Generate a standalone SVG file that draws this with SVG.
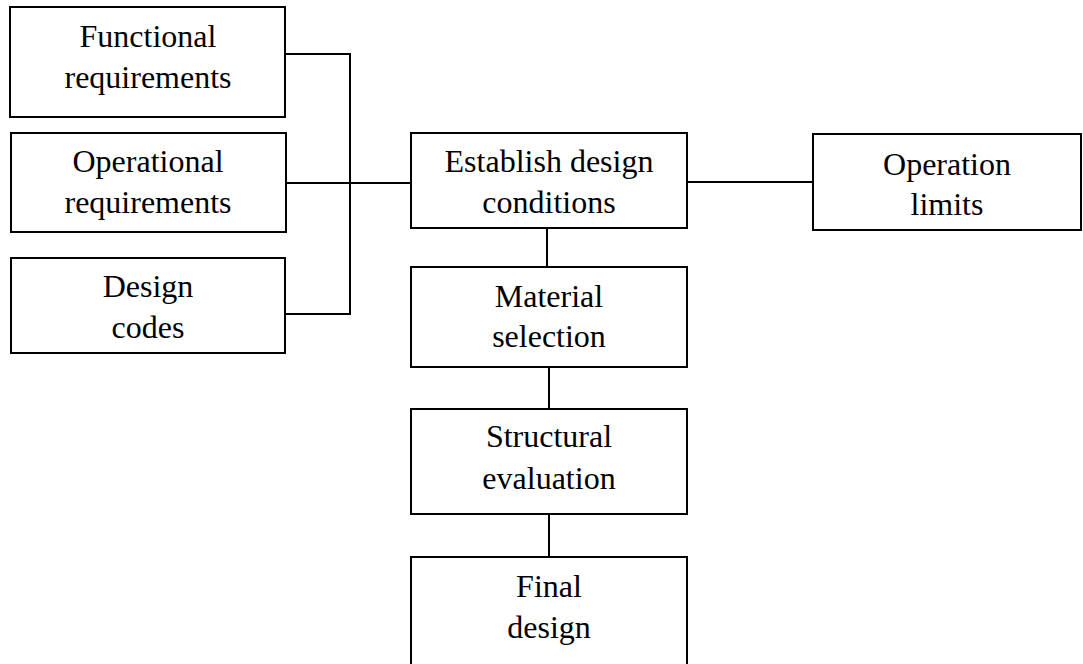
<svg xmlns="http://www.w3.org/2000/svg" width="1083" height="664" viewBox="0 0 1083 664">
<style>
.box{fill:#fff;stroke:#000;stroke-width:2}
.ln{stroke:#000;stroke-width:2;fill:none}
text{font-family:"Liberation Serif","Times New Roman",serif;font-size:32px;fill:#000;text-anchor:middle}
</style>
<rect width="1083" height="664" fill="#fff"/>
<g id="connectors">
<path class="ln" d="M285 54H350V314H285M286 183H411M687 182H813M547 228V267M549 367V409M549 514V557"/>
</g>
<g id="functional"><rect class="box" x="10" y="7" width="275" height="110"/><text x="148" y="47">Functional</text><text x="148" y="88">requirements</text></g>
<g id="operational"><rect class="box" x="11" y="133" width="275" height="99"/><text x="148" y="172">Operational</text><text x="148" y="213">requirements</text></g>
<g id="codes"><rect class="box" x="11" y="258" width="274" height="95"/><text x="148" y="297">Design</text><text x="148" y="338">codes</text></g>
<g id="establish"><rect class="box" x="411" y="133" width="276" height="95"/><text x="549" y="172">Establish design</text><text x="549" y="213">conditions</text></g>
<g id="limits"><rect class="box" x="813" y="134" width="268" height="96"/><text x="947" y="175">Operation</text><text x="947" y="215">limits</text></g>
<g id="material"><rect class="box" x="411" y="267" width="276" height="100"/><text x="549" y="307">Material</text><text x="549" y="347">selection</text></g>
<g id="structural"><rect class="box" x="411" y="409" width="276" height="105"/><text x="549" y="447">Structural</text><text x="549" y="489">evaluation</text></g>
<g id="final"><rect class="box" x="411" y="557" width="276" height="120"/><text x="549" y="597">Final</text><text x="549" y="638">design</text></g>
</svg>
